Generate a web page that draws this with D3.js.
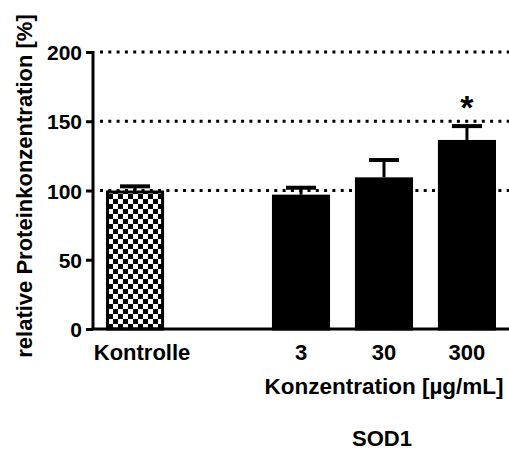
<!DOCTYPE html>
<html><head><meta charset="utf-8">
<script src="https://cdn.jsdelivr.net/npm/d3@7"></script>
<style>body{margin:0;background:#fff}svg{display:block}text{font-family:"Liberation Sans",Arial,sans-serif;font-weight:bold;fill:#000}</style>
</head><body>
<script>
const categories = ["Kontrolle", "gap", "3", "30", "300"];
const values = [100, null, 97, 109.5, 136.5];
const errors = [3, null, 5, 12.5, 10];
const significance = ["", "", "", "", "*"];
const yTicks = [0, 50, 100, 150, 200];
const gridValues = [100, 150, 200];

const W = 509, H = 459;
const svg = d3.select("body").append("svg").attr("width", W).attr("height", H);
const defs = svg.append("defs");
const pat = defs.append("pattern").attr("id","checker").attr("patternUnits","userSpaceOnUse")
  .attr("width",10).attr("height",10).attr("x",108).attr("y",4);
pat.append("rect").attr("width",10).attr("height",10).attr("fill","#fff");
pat.append("rect").attr("width",5).attr("height",5).attr("fill","#000");
pat.append("rect").attr("x",5).attr("y",5).attr("width",5).attr("height",5).attr("fill","#000");

const x0 = 93, x1 = 509;
const y = d3.scaleLinear().domain([0, 200]).range([329, 52]);
const x = d3.scaleBand().domain(categories).range([106, 496]).paddingInner(0.3).paddingOuter(0);

// grid
svg.append("g").selectAll("line").data(gridValues).join("line")
  .attr("x1", x0+7).attr("x2", x1).attr("y1", d=>y(d)).attr("y2", d=>y(d))
  .attr("stroke","#000").attr("stroke-width",3).attr("stroke-dasharray","3,5.3");

// bars
const data = categories.map((c,i)=>({c, v:values[i], e:errors[i], s:significance[i], i})).filter(d=>d.v!==null);
const g = svg.append("g");
data.forEach(d=>{
  const bx = x(d.c), bw = x.bandwidth();
  g.append("line").attr("x1",bx+bw/2).attr("x2",bx+bw/2).attr("y1",y(d.v)).attr("y2",y(d.v+d.e))
    .attr("stroke","#000").attr("stroke-width",3);
  g.append("line").attr("x1",bx+bw/2-15).attr("x2",bx+bw/2+15).attr("y1",y(d.v+d.e)).attr("y2",y(d.v+d.e))
    .attr("stroke","#000").attr("stroke-width",4);
  g.append("rect").attr("x",bx+1.5).attr("y",y(d.v)+1.5).attr("width",bw-3).attr("height",y(0)-y(d.v)-1.5)
    .attr("fill", d.i===0 ? "url(#checker)" : "#000").attr("stroke","#000").attr("stroke-width",3);
  if (d.s) g.append("text").attr("x",bx+bw/2).attr("y",y(d.v+d.e)-7).attr("text-anchor","middle")
    .attr("font-size",34).text(d.s);
});

// y axis
const yAxis = d3.axisLeft(y).tickValues(yTicks).tickSize(7).tickPadding(4);
const ya = svg.append("g").attr("transform",`translate(${x0},0)`).call(yAxis);
ya.select(".domain").attr("stroke-width",3).attr("d",`M0,${y(200)-1}V${y(0)+1}`);
ya.selectAll(".tick line").attr("stroke-width",3);
ya.selectAll(".tick text").attr("font-size",21).attr("font-family",'"Liberation Sans",Arial,sans-serif').attr("font-weight","bold").attr("dy","0.36em");

// x axis line
svg.append("line").attr("x1",x0-1.5).attr("x2",x1).attr("y1",y(0)).attr("y2",y(0)).attr("stroke","#000").attr("stroke-width",3);

// x labels
svg.append("g").selectAll("text").data(data).join("text")
  .attr("x",d=>x(d.c)+x.bandwidth()/2).attr("dx",d=>d.i===0?7:0).attr("y",360).attr("text-anchor","middle").attr("font-size",22)
  .text(d=>d.c);

svg.append("text").attr("x",384).attr("y",394).attr("text-anchor","middle").attr("font-size",22.5).text("Konzentration [µg/mL]");
svg.append("text").attr("x",382).attr("y",446).attr("text-anchor","middle").attr("font-size",22).text("SOD1");
svg.append("text").attr("transform","translate(32,186) rotate(-90)").attr("text-anchor","middle").attr("font-size",22)
  .text("relative Proteinkonzentration [%]");
</script>
</body></html>
